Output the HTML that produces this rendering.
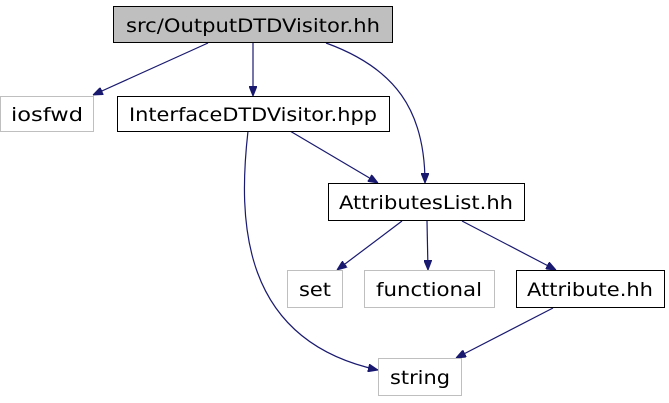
<!DOCTYPE html>
<html><head><meta charset="utf-8"><style>
html,body{margin:0;padding:0;background:#fff;width:669px;height:403px;overflow:hidden}
text{font-family:"DejaVu Sans","Liberation Sans",sans-serif;font-size:19px;fill:#000}
</style></head><body>
<svg width="669" height="403" viewBox="0 0 669 403" xmlns="http://www.w3.org/2000/svg">
<defs><marker id="a" markerWidth="10" markerHeight="8" refX="10" refY="4" orient="auto" markerUnits="userSpaceOnUse"><path d="M0,0 L10,4 L0,8 z" fill="#191970" stroke="#191970"/></marker></defs>
<g fill="none" stroke="#191970" stroke-width="1.2">
<path d="M208,43 L93,95" marker-end="url(#a)"/>
<path d="M253,43 L253,96" marker-end="url(#a)"/>
<path d="M326,43 C395,68 425,110 425,183" marker-end="url(#a)"/>
<path d="M290,131 L378,183" marker-end="url(#a)"/>
<path d="M248,131 C238,220 240,340 378,370" marker-end="url(#a)"/>
<path d="M402,221 L337,270" marker-end="url(#a)"/>
<path d="M427,221 L428,270" marker-end="url(#a)"/>
<path d="M462,221 L556,270" marker-end="url(#a)"/>
<path d="M553,308 L456,358" marker-end="url(#a)"/>
</g>
<g stroke-width="1">
<rect x="113.5" y="6.5" width="279" height="36" fill="#bfbfbf" stroke="#000"/>
<rect x="0.5" y="96.5" width="93" height="35" fill="#fff" stroke="#bfbfbf"/>
<rect x="117.5" y="96.5" width="272" height="35" fill="#fff" stroke="#000"/>
<rect x="328.5" y="183.5" width="196" height="37" fill="#fff" stroke="#000"/>
<rect x="287.5" y="270.5" width="55" height="37" fill="#fff" stroke="#bfbfbf"/>
<rect x="364.5" y="270.5" width="130" height="37" fill="#fff" stroke="#bfbfbf"/>
<rect x="516.5" y="270.5" width="148" height="37" fill="#fff" stroke="#000"/>
<rect x="378.5" y="358.5" width="83" height="37" fill="#fff" stroke="#bfbfbf"/>
</g>
<text x="253" y="32" text-anchor="middle" textLength="254" lengthAdjust="spacingAndGlyphs">src/OutputDTDVisitor.hh</text>
<text x="47" y="121" text-anchor="middle" textLength="72" lengthAdjust="spacingAndGlyphs">iosfwd</text>
<text x="253" y="121" text-anchor="middle" textLength="248" lengthAdjust="spacingAndGlyphs">InterfaceDTDVisitor.hpp</text>
<text x="426" y="209" text-anchor="middle" textLength="174" lengthAdjust="spacingAndGlyphs">AttributesList.hh</text>
<text x="315" y="296" text-anchor="middle" textLength="32" lengthAdjust="spacingAndGlyphs">set</text>
<text x="429" y="296" text-anchor="middle" textLength="106" lengthAdjust="spacingAndGlyphs">functional</text>
<text x="590" y="296" text-anchor="middle" textLength="126" lengthAdjust="spacingAndGlyphs">Attribute.hh</text>
<text x="420" y="384" text-anchor="middle" textLength="60" lengthAdjust="spacingAndGlyphs">string</text>
</svg>
</body></html>
